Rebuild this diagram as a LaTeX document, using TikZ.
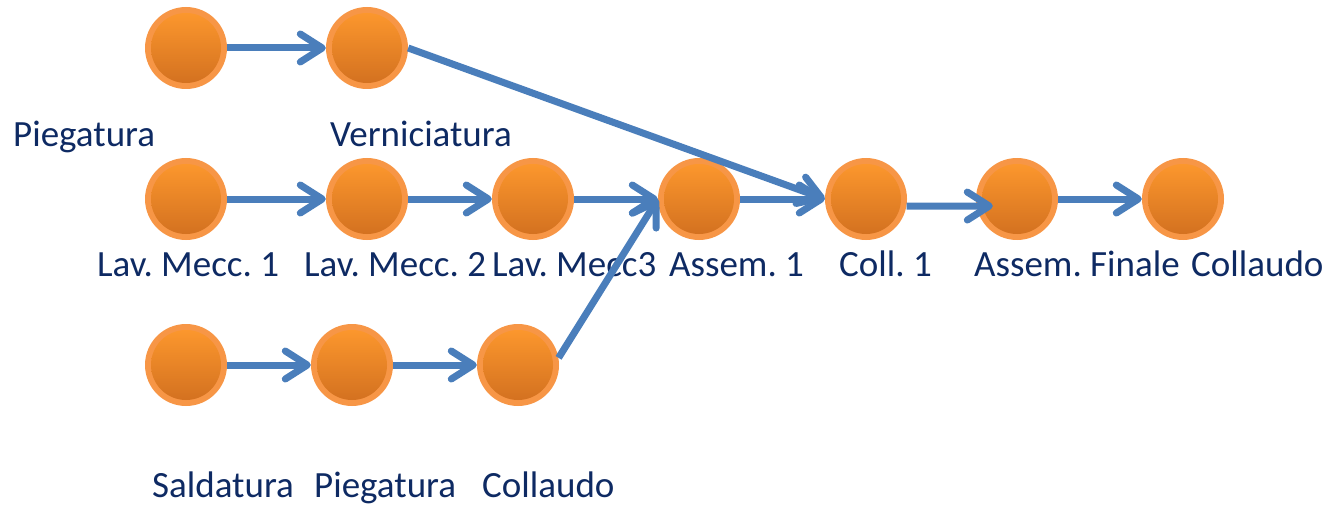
\documentclass[tikz,border=0pt]{standalone}
\usepackage{fontspec}
\setmainfont{Carlito}
\usetikzlibrary{arrows.meta,calc}
\definecolor{ring}{HTML}{F79646}
\definecolor{topor}{HTML}{FF9A2E}
\definecolor{botor}{HTML}{D06E1F}
\definecolor{arrowblue}{HTML}{4A7EBB}
\definecolor{txt}{HTML}{0E2A63}
\frenchspacing
\tikzset{
  proc/.style={circle, minimum size=82pt, inner sep=0pt, fill=ring,
    path picture={\shade[top color=topor, bottom color=botor]
      (path picture bounding box.center) circle (35pt);}},
  lab/.style={anchor=base west, inner sep=0pt, text=txt,
    font=\fontsize{37pt}{40pt}\selectfont\frenchspacing},
  flow/.style={draw=arrowblue, line width=7pt,
    -{Straight Barb[length=22pt,width=28pt,line width=7pt,round]}}
}
\begin{document}
\begin{tikzpicture}[x=1pt,y=-1pt]
\useasboundingbox (0,0) rectangle (1324,505);
% row 1
\node[proc] (p1) at (186,48) {};
\node[proc] (v1) at (367,48) {};
% row 2
\node[proc] (m1) at (186,199) {};
\node[proc] (m2) at (367,199) {};
\node[proc] (m3) at (533,199) {};
\node[proc] (a1) at (699,199) {};
\node[proc] (c1) at (866,199) {};
\node[proc] (af) at (1017,199) {};
\node[proc] (cf) at (1183,199) {};
% row 3
\node[proc] (s3) at (186,365) {};
\node[proc] (p3) at (352,365) {};
\node[proc] (c3) at (518,365) {};
% labels
\node[lab] (lp1) at (13,147) {Piegatura};
\node[lab] (lv1) at (330,147) {Verniciatura};
\node[lab] (lm1) at (97,276) {Lav. Mecc. 1};
\node[lab] (lm2) at (304,276) {Lav. Mecc. 2};
\node[lab] (lm3) at (492,276) {Lav. Mecc3};
\node[lab] (la1) at (669,276) {Assem. 1};
\node[lab] (lc1) at (839,276) {Coll. 1};
\node[lab] (laf) at (974,276) {Assem. Finale};
\node[lab] (lcf) at (1191,276) {Collaudo};
\node[lab] (ls3) at (152,497) {Saldatura};
\node[lab] (lp3) at (314,497) {Piegatura};
\node[lab] (lc3) at (482,497) {Collaudo};
% connectors
\draw[flow] (p1.east) -- (v1.west);
\draw[flow] (v1.east) -- (c1.west);
\draw[flow] (m1.east) -- (m2.west);
\draw[flow] (m2.east) -- (m3.west);
\draw[flow] (m3.east) -- (a1.west);
\draw[flow] (a1.east) -- (c1.west);
\draw[flow] (c1.-10) -- ($(af.west)+(17,7)$);
\draw[flow] (af.east) -- (cf.west);
\draw[flow] (s3.east) -- (p3.west);
\draw[flow] (p3.east) -- (c3.west);
\draw[flow] (c3.10) -- (a1.west);
\end{tikzpicture}
\end{document}
